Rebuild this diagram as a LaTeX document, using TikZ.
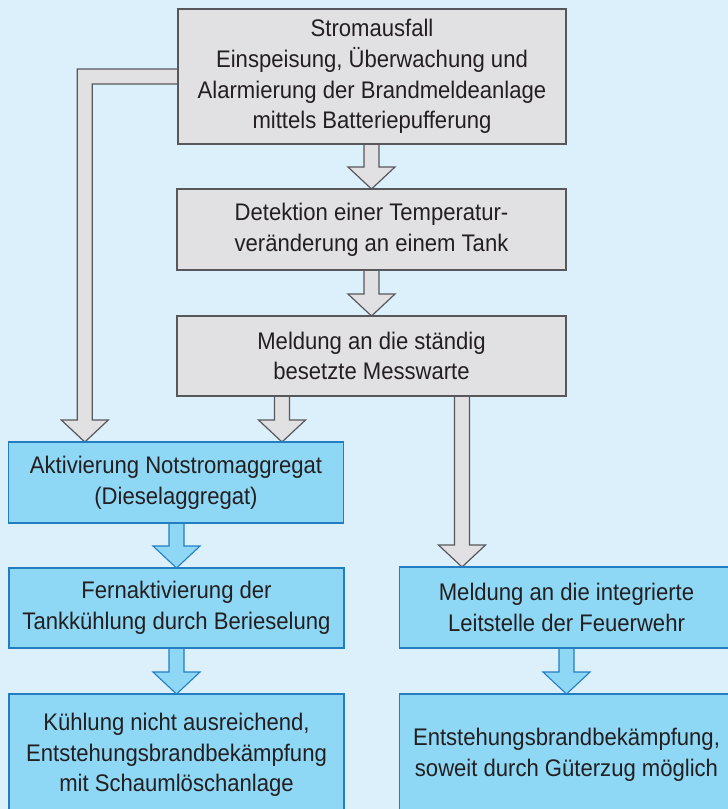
\documentclass[tikz,border=0pt]{standalone}
\usepackage{fontspec}
\setmainfont[FakeStretch=0.92]{Liberation Sans}
\usetikzlibrary{calc}
\definecolor{bgc}{RGB}{220,240,252}
\definecolor{gfill}{RGB}{225,225,227}
\definecolor{gline}{RGB}{88,88,92}
\definecolor{bfill}{RGB}{142,215,245}
\definecolor{bline}{RGB}{35,125,195}
\definecolor{txt}{RGB}{35,31,32}
\pgfdeclarelayer{back}
\pgfdeclarelayer{arr}
\pgfsetlayers{back,arr,main}
\newcommand{\blockarr}[3]{%
  \draw[#1] let \p1=#2, \p2=#3 in
    (\x2-7.5pt,\y1) -- (\x2-7.5pt,\y2+22pt) -- (\x2-23.5pt,\y2+22pt) -- (\x2,\y2)
    -- (\x2+23.5pt,\y2+22pt) -- (\x2+7.5pt,\y2+22pt) -- (\x2+7.5pt,\y1);}
\begin{document}
\begin{tikzpicture}[x=1pt,y=-1pt,
  box/.style={inner sep=0pt,outer sep=0pt,align=center,text=txt,
    font=\fontsize{24}{30.7}\selectfont},
  gbox/.style={box,draw=gline,fill=gfill,line width=1.3pt},
  bbox/.style={box,draw=bline,fill=bfill,line width=1.4pt},
  garr/.style={draw=gline,fill=gfill,line width=1.2pt,line join=miter},
  barr/.style={draw=bline,fill=bfill,line width=1.1pt,line join=miter}]
\useasboundingbox (0,0) rectangle (728,809);
\begin{pgfonlayer}{back}
\fill[bgc] (0,0) rectangle (728,809);
\end{pgfonlayer}

\node[gbox,minimum width=388,minimum height=135] (b1) at (372,76.5)
  {Stromausfall\\Einspeisung, Überwachung und\\Alarmierung der Brandmeldeanlage\\mittels Batteriepufferung};
\node[gbox,minimum width=389,minimum height=81] (b2) at (371.5,229.5)
  {Detektion einer Temperatur-\\veränderung an einem Tank};
\node[gbox,minimum width=389,minimum height=80] (b3) at (371.5,356)
  {Meldung an die ständig\\besetzte Messwarte};
\node[bbox,minimum width=335,minimum height=81] (bA) at (176,482.5)
  {Aktivierung Notstromaggregat\\(Dieselaggregat)};
\node[bbox,minimum width=335,minimum height=80] (bB) at (176.5,608)
  {Fernaktivierung der\\Tankkühlung durch Berieselung};
\node[bbox,minimum width=335,minimum height=122] (bC) at (176.5,755)
  {Kühlung nicht ausreichend,\\Entstehungsbrandbekämpfung\\mit Schaumlöschanlage};
\node[bbox,minimum width=334,minimum height=81] (bD) at (566.5,607.5)
  {Meldung an die integrierte\\Leitstelle der Feuerwehr};
\node[bbox,minimum width=334,minimum height=122] (bE) at (566.5,755)
  {Entstehungsbrandbekämpfung,\\soweit durch Güterzug möglich};

\coordinate (lx) at (84.8,0);
\coordinate (ax) at (282,0);
\coordinate (dx) at (462,0);

\begin{pgfonlayer}{arr}
\blockarr{garr}{(b1.south)}{(b2.north)}
\blockarr{garr}{(b2.south)}{(b3.north)}
\blockarr{garr}{(b3.south)}{(ax |- bA.north)}
\blockarr{garr}{(b3.south)}{(dx |- bD.north)}
\blockarr{barr}{(bA.south)}{(bB.north)}
\blockarr{barr}{(bB.south)}{(bC.north)}
\blockarr{barr}{(bD.south)}{(bE.north)}
\draw[garr] let \p1=(b1.west), \p2=(lx |- bA.north) in
  (\x1,\y1+7.5pt) -- (\x2-7.5pt,\y1+7.5pt) -- (\x2-7.5pt,\y2+22pt)
  -- (\x2-23.5pt,\y2+22pt) -- (\x2,\y2) -- (\x2+23.5pt,\y2+22pt)
  -- (\x2+7.5pt,\y2+22pt) -- (\x2+7.5pt,\y1-7.5pt) -- (\x1,\y1-7.5pt);
\end{pgfonlayer}
\end{tikzpicture}
\end{document}
